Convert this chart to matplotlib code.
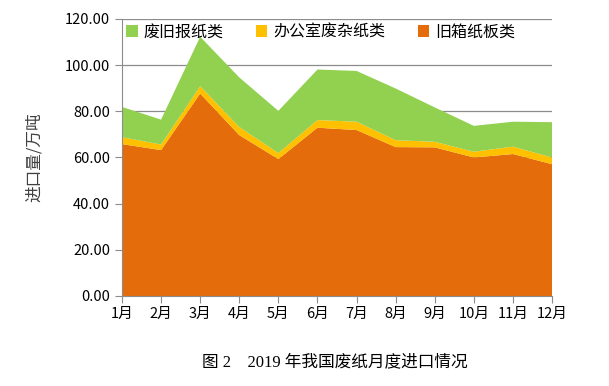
import matplotlib
matplotlib.use('Agg')
import matplotlib.pyplot as plt
import numpy as np

plt.rcParams['font.family'] = ['Noto Sans CJK SC', 'DejaVu Sans']

months = ['1月', '2月', '3月', '4月', '5月', '6月', '7月', '8月', '9月', '10月', '11月', '12月']
# 万吨
occ = [65.8, 63.2, 87.7, 69.7, 59.3, 72.9, 71.9, 64.5, 64.4, 60.0, 61.5, 57.1]      # 旧箱纸板类
office = [3.0, 2.4, 3.2, 3.5, 2.6, 3.3, 3.6, 3.0, 2.4, 2.5, 3.2, 2.9]               # 办公室废杂纸类
newsprint = [13.1, 10.8, 21.4, 21.5, 18.3, 21.9, 22.0, 22.4, 14.9, 11.2, 10.8, 15.3]  # 废旧报纸类

colors = {'occ': '#E46C0A', 'office': '#FFC000', 'news': '#92D050'}

fig = plt.figure(figsize=(6.09, 3.86), dpi=100)
ax = fig.add_axes([0.2003, 0.2332, 0.7061, 0.7176])

x = np.arange(len(months))
ax.stackplot(x, occ, office, newsprint,
             colors=[colors['occ'], colors['office'], colors['news']],
             labels=['旧箱纸板类', '办公室废杂纸类', '废旧报纸类'], zorder=2)

ax.set_xlim(0, len(months) - 1)
ax.set_ylim(0, 120)
ax.set_yticks(np.arange(0, 121, 20))
ax.set_yticklabels(['{:.2f}'.format(v) for v in np.arange(0, 121, 20)])
ax.set_xticks(x)
ax.set_xticklabels(months)
ax.yaxis.grid(True, color='#8c8c8c', linewidth=0.9, zorder=0)
ax.set_axisbelow(True)

for s in ['top', 'right']:
    ax.spines[s].set_visible(False)
for s in ['left', 'bottom']:
    ax.spines[s].set_color('#8c8c8c')
ax.tick_params(axis='both', colors='#8c8c8c', labelcolor='black', labelsize=10.5,
               direction='out', length=5)
ax.tick_params(axis='x', pad=3)

ax.set_ylabel('进口量/万吨', fontsize=12, color='#404040', labelpad=16)

handles, labels = ax.get_legend_handles_labels()
leg = fig.legend(handles[::-1], labels[::-1], loc='center left', ncol=3,
                 bbox_to_anchor=(0.194, 0.917), frameon=False, fontsize=11.5,
                 borderpad=0, handlelength=0.72, handleheight=0.72,
                 columnspacing=2.05, handletextpad=0.35)

fig.text(0.55, 0.062, '图 2    2019 年我国废纸月度进口情况', ha='center', va='center',
         fontsize=12, family=['Liberation Serif', 'Noto Sans CJK SC'])

fig.savefig('out.png', dpi=100)
